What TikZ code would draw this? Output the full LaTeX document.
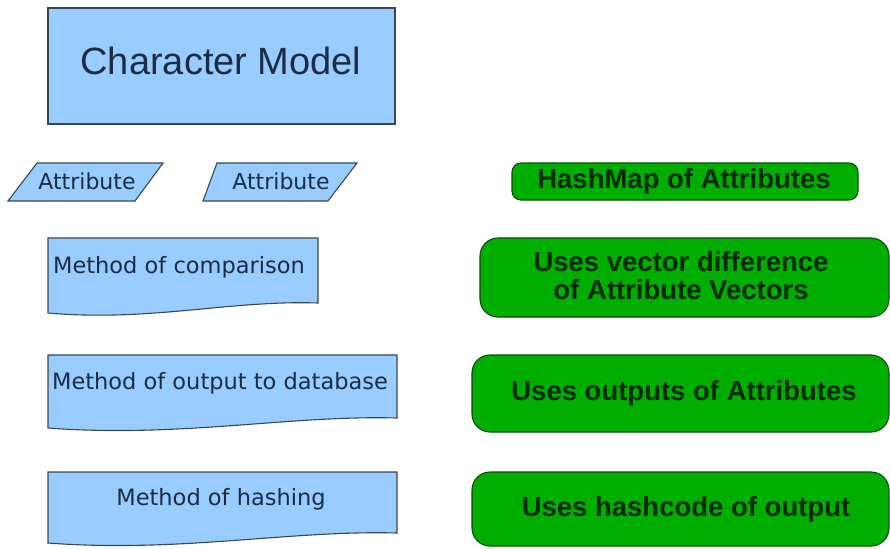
\documentclass[tikz,border=0pt]{standalone}
\usepackage{fontspec}
\setmainfont{DejaVu Sans}
\newfontfamily\arialf{Liberation Sans}
\definecolor{bluefill}{HTML}{99CCFF}
\definecolor{blueline}{HTML}{3A4654}
\definecolor{bluetext}{HTML}{1C2C44}
\definecolor{greenfill}{HTML}{00AE00}
\definecolor{greenline}{HTML}{0A4A0A}
\definecolor{greentext}{HTML}{062A06}
\begin{document}
\begin{tikzpicture}[x=1pt,y=-1pt,
  bshape/.style={fill=bluefill,draw=blueline,line width=1.1pt},
  gshape/.style={fill=greenfill,draw=greenline,line width=1.1pt,rounded corners=18pt},
  btext/.style={text=bluetext,inner sep=0pt,font=\fontsize{22.5}{26}\selectfont},
  gtext/.style={text=greentext,inner sep=0pt,align=center,font=\arialf\bfseries\fontsize{27.5}{28}\selectfont}]
\useasboundingbox (0,0) rectangle (890,548);
% Character model
\draw[bshape] (48,8) rectangle (395,124);
\node[text=bluetext,inner sep=0pt,font=\arialf\fontsize{38}{42}\selectfont] (cm) at (221,61) {Character Model};
% Attributes
\draw[bshape] (37,163) -- (163,163) -- (135,201) -- (8,201) -- cycle;
\node[btext,font=\fontsize{22}{26}\selectfont] (a1) at (87,181) {Attribute};
\draw[bshape] (217,163) -- (357,163) -- (328,201) -- (203,201) -- cycle;
\node[btext,font=\fontsize{22}{26}\selectfont] (a2) at (281,181) {Attribute};
% documents
\draw[bshape] (48,238) -- (318,238) -- (318,303) .. controls (230,300) and (150,322) .. (48,313) -- cycle;
\node[btext] (m1) at (179,267) {Method of comparison};
\draw[bshape] (48,355) -- (397,355) -- (397,418) .. controls (290,415) and (180,438) .. (48,428) -- cycle;
\node[btext] (m2) at (220,383) {Method of output to database};
\draw[bshape] (48,472) -- (397,472) -- (397,533) .. controls (290,530) and (180,553) .. (48,543) -- cycle;
\node[btext] (m3) at (221,499) {Method of hashing};
% green
\draw[gshape,rounded corners=9pt] (512,163) rectangle (858,200);
\node[gtext] (g1) at (684,181) {HashMap of Attributes};
\draw[gshape] (480,238) rectangle (889,317);
\node[gtext] (g2) at (681,276) {Uses vector difference\\of Attribute Vectors};
\draw[gshape] (472,355) rectangle (889,432);
\node[gtext] (g3) at (684,393) {Uses outputs of Attributes};
\draw[gshape] (472,472) rectangle (889,546);
\node[gtext] (g4) at (686,509) {Uses hashcode of output};
\end{tikzpicture}
\end{document}
